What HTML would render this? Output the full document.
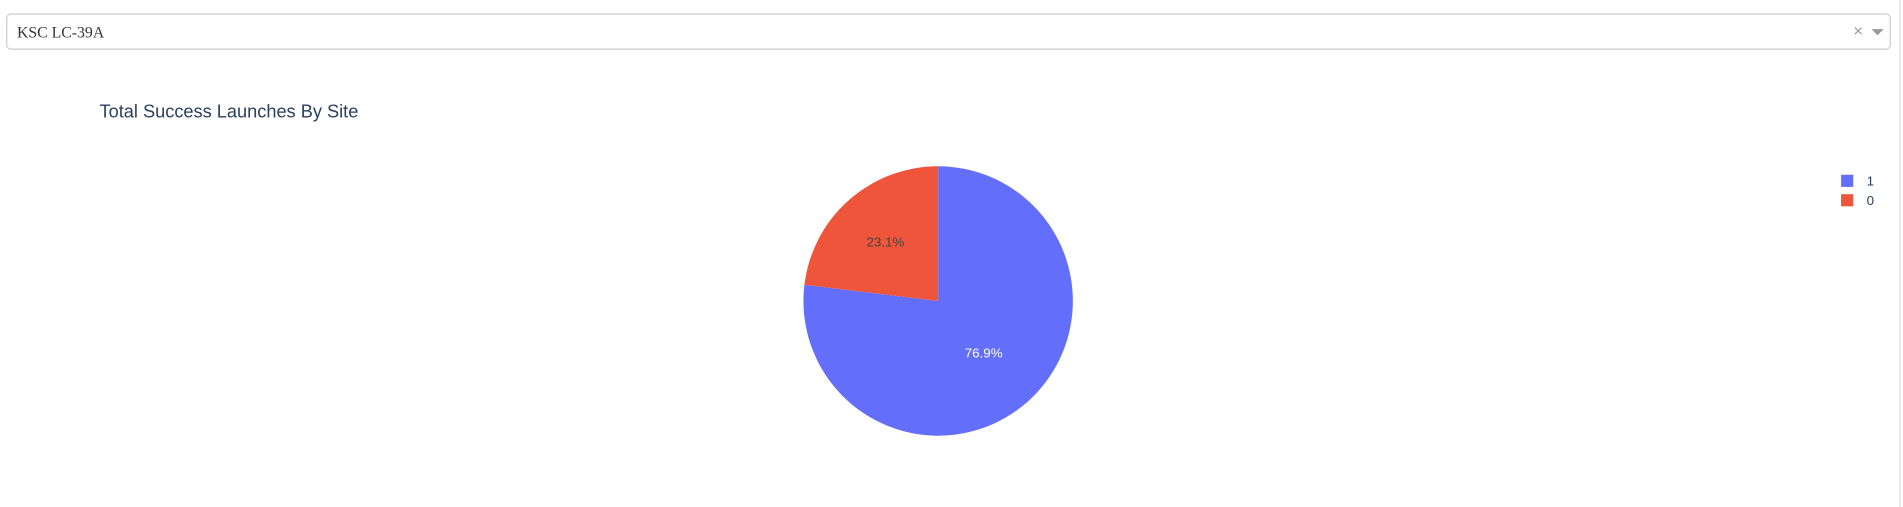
<!DOCTYPE html>
<html><head><meta charset="utf-8"><style>
html,body{margin:0;padding:0;width:1903px;height:507px;overflow:hidden;background:#fff}
#wrap{position:absolute;left:0;top:0;width:1568px;height:418px;transform:scale(1.21365);transform-origin:0 0}
#dd{position:absolute;left:5px;top:11px;width:1551px;height:28px;border:1px solid #ccc;border-radius:4px;box-sizing:content-box}
#ddtext{position:absolute;left:8px;top:7px;font:13px "Liberation Serif",serif;color:#333}
#clear{position:absolute;left:1521px;top:5px;font:14px "Liberation Sans",sans-serif;color:#999}
#arrow{position:absolute;left:1536px;top:12px;width:0;height:0;border-left:5px solid transparent;border-right:5px solid transparent;border-top:5px solid #999}
#sb{position:absolute;left:1565px;top:0;width:1px;height:418px;background:#ddd}
svg text{font-family:"Liberation Sans",sans-serif}
</style></head><body>
<div id="wrap">
<div id="dd">
<span id="ddtext">KSC LC-39A</span>
<span id="clear">×</span>
<span id="arrow"></span>
</div>
<div id="sb"></div>
<svg id="chart" width="1568" height="418" style="position:absolute;left:0;top:0">
<text x="82" y="97" font-size="15" fill="#2a3f5f">Total Success Launches By Site</text>
<g id="slices"></g>
<g id="legend"></g>
</svg>
</div>
<script>
const labels=['1','0'];
const values=[10,3];
const colors=['#636efa','#ef553b'];
const cx=773,cy=248,r=111;
const ns='http://www.w3.org/2000/svg';
const g=document.getElementById('slices');
const total=values.reduce((a,b)=>a+b,0);
let a0=0;
values.forEach((v,i)=>{
  const frac=v/total,a1=a0+frac*2*Math.PI;
  const p=(a)=>[cx+r*Math.sin(a),cy-r*Math.cos(a)];
  const [x0,y0]=p(a0),[x1,y1]=p(a1);
  const path=document.createElementNS(ns,'path');
  path.setAttribute('d',`M${cx},${cy}L${x0},${y0}A${r},${r} 0 ${frac>0.5?1:0} 1 ${x1},${y1}Z`);
  path.setAttribute('fill',colors[i]);
  
  
  g.appendChild(path);
  const am=(a0+a1)/2;
  const t=document.createElementNS(ns,'text');
  t.setAttribute('x',cx+0.55*r*Math.sin(am)-3);
  t.setAttribute('y',cy-0.55*r*Math.cos(am)+1);
  t.setAttribute('text-anchor','middle');
  t.setAttribute('font-size','11');
  t.setAttribute('fill',i===0?'#fff':'#444');
  t.textContent=(frac*100).toFixed(1)+'%';
  
  
  g.appendChild(t);
  a0=a1;
});
const lg=document.getElementById('legend');
labels.forEach((l,i)=>{
  const y=144+i*16;
  const rc=document.createElementNS(ns,'rect');
  rc.setAttribute('x',1517);rc.setAttribute('y',y);rc.setAttribute('width',10);rc.setAttribute('height',10);
  rc.setAttribute('fill',colors[i]);
  
  
  lg.appendChild(rc);
  const t=document.createElementNS(ns,'text');
  t.setAttribute('x',1538);t.setAttribute('y',y+9);t.setAttribute('font-size','11');t.setAttribute('fill','#2a3f5f');
  t.textContent=l;
  
  
  lg.appendChild(t);
});
</script>
</body></html>
